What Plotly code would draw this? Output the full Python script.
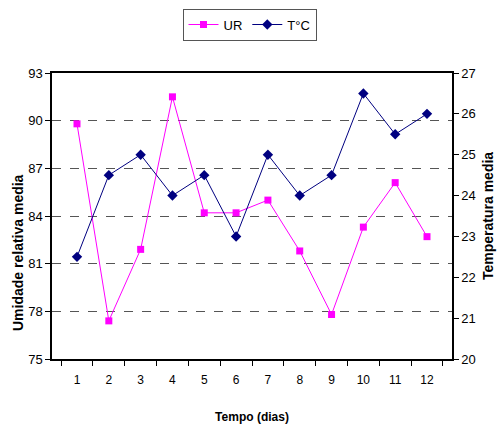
import plotly.graph_objects as go

# Dados
dias = [str(d) for d in range(1, 13)]
ur = [89.8, 77.4, 81.9, 91.5, 84.2, 84.2, 85.0, 81.8, 77.8, 83.3, 86.1, 82.7]
temp = [22.5, 24.5, 25.0, 24.0, 24.5, 23.0, 25.0, 24.0, 24.5, 26.5, 25.5, 26.0]

fonte = "Liberation Sans, Arial"

fig = go.Figure()
fig.add_trace(go.Scatter(
    x=dias, y=ur, name="UR", mode="lines+markers",
    line=dict(color="#ff00ff", width=1),
    marker=dict(symbol="square", size=7, color="#ff00ff"),
))
fig.add_trace(go.Scatter(
    x=dias, y=temp, name="T°C", mode="lines+markers", yaxis="y2",
    line=dict(color="#000080", width=1),
    marker=dict(symbol="diamond", size=8, color="#000080"),
))

fig.update_layout(
    width=499, height=428,
    margin=dict(l=52, r=47, t=73, b=69, autoexpand=False),
    plot_bgcolor="white", paper_bgcolor="white",
    font=dict(family=fonte, size=13, color="black"),
    showlegend=True,
    legend=dict(orientation="h", x=0.5, xanchor="center", xref="container",
                y=0.98, yanchor="top", yref="container",
                bordercolor="#555555", borderwidth=1, font=dict(size=13),
                tracegroupgap=0, itemwidth=30),
    xaxis=dict(
        type="category", tickson="boundaries", ticks="outside", ticklen=5,
        tickcolor="black", showline=True, linecolor="black", linewidth=1.5,
        mirror=True, showgrid=False, automargin=False, tickfont=dict(size=12),
        ticklabelstandoff=9,
        title=dict(text="<b>Tempo (dias)</b>", font=dict(size=12), standoff=26),
    ),
    yaxis=dict(
        range=[75, 93], tickvals=[75, 78, 81, 84, 87, 90, 93], ticks="outside",
        ticklen=5, tickcolor="black", showline=True, linecolor="black", linewidth=1.5,
        showgrid=True, gridcolor="#555555", griddash="dash", gridwidth=1,
        zeroline=False, automargin=False, tickfont=dict(size=13),
    ),
    yaxis2=dict(
        overlaying="y", side="right", range=[20, 27], dtick=1, ticks="outside",
        ticklen=5, tickcolor="black", showline=True, linecolor="black", linewidth=1.5,
        showgrid=False, zeroline=False, automargin=False, tickfont=dict(size=13),
    ),
    annotations=[
        dict(text="<b>Umidade relativa media</b>", textangle=-90, showarrow=False,
             xref="paper", yref="paper", x=0, y=0.5, xanchor="center", yanchor="middle",
             xshift=-34, yshift=-37, font=dict(size=14)),
        dict(text="<b>Temperatura media</b>", textangle=-90, showarrow=False,
             xref="paper", yref="paper", x=1, y=0.5, xanchor="center", yanchor="middle",
             xshift=36, yshift=0, font=dict(size=14)),
    ],
)

# enlever la marge par défaut du body
fig.write_html("out.html", config={"displayModeBar": False},
               post_script="document.body.style.margin='0';")
